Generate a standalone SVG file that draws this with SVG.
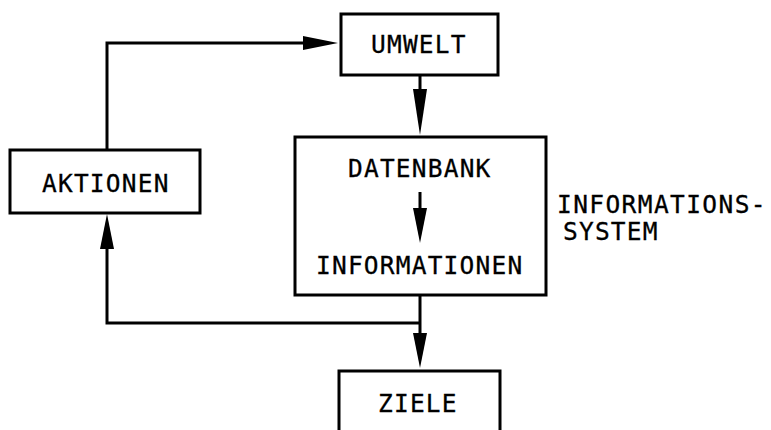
<svg xmlns="http://www.w3.org/2000/svg" width="771" height="430" viewBox="0 0 771 430">
<style>
.box{fill:#fff;stroke:#000;stroke-width:3}
.ln{fill:none;stroke:#000;stroke-width:3}
.t{font-family:"DejaVu Sans Mono","Liberation Mono",monospace;font-size:24.5px;letter-spacing:1.2px;fill:#000;stroke:#000;stroke-width:0.3}
</style>
<defs>
<marker id="ah" markerUnits="userSpaceOnUse" viewBox="0 0 35 14" refX="0" refY="7" markerWidth="35" markerHeight="14" orient="auto"><path d="M0,0 L35,7 L0,14 Z" fill="#000"/></marker>
<marker id="ahl" markerUnits="userSpaceOnUse" viewBox="0 0 46 14" refX="0" refY="7" markerWidth="46" markerHeight="14" orient="auto"><path d="M0,0 L46,7 L0,14 Z" fill="#000"/></marker>
</defs>
<rect width="771" height="430" fill="#fff"/>
<g id="umwelt">
<rect class="box" x="341" y="14" width="157" height="61"/>
<text class="t" x="371" y="53">UMWELT</text>
</g>
<g id="aktionen">
<rect class="box" x="10" y="150" width="190" height="63"/>
<text class="t" x="42" y="192">AKTIONEN</text>
</g>
<g id="informationssystem">
<rect class="box" x="295" y="137" width="251" height="158"/>
<text class="t" x="348" y="177">DATENBANK</text>
<text class="t" x="316" y="274">INFORMATIONEN</text>
</g>
<g id="label">
<text class="t" x="557" y="213" style="letter-spacing:1.4px">INFORMATIONS-</text>
<text class="t" x="563" y="240">SYSTEM</text>
</g>
<g id="ziele">
<rect class="box" x="339" y="371" width="161" height="80"/>
<text class="t" x="378" y="412">ZIELE</text>
</g>
<g id="connectors">
<path class="ln" d="M107,150 V43 H303" marker-end="url(#ah)"/>
<path class="ln" d="M420,75 V89" marker-end="url(#ahl)"/>
<path class="ln" d="M420,192 V208" marker-end="url(#ah)"/>
<path class="ln" d="M420,295 V333" marker-end="url(#ah)"/>
<path class="ln" d="M420,323 H107 V249" marker-end="url(#ah)"/>
</g>
</svg>
